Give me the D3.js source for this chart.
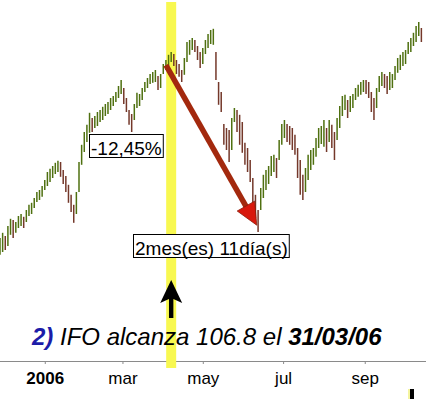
<!DOCTYPE html>
<html>
<head>
<meta charset="utf-8">
<script src="https://cdn.jsdelivr.net/npm/d3@7"></script>
<style>
  body { margin: 0; background: #fff; }
  svg { display: block; font-family: "Liberation Sans", Arial, sans-serif; }
</style>
</head>
<body>
<svg id="chart" width="426" height="399"></svg>
<script>
// One bar every two days, starting 28/11/2005 (high / low, index points)
var firstBar = '2005-11-28';
var highs = [3380,3393,3385,3410,3428,3425,3420,3435,3440,3433,
             3450,3463,3468,3480,3495,3500,3510,3525,3545,3553,
             3560,3568,3573,3570,3550,3535,3513,3488,3463,3495,
             3570,3613,3645,3663,3693,3680,3685,3695,3700,3708,
             3715,3720,3730,3735,3745,3760,3775,3755,3730,3700,
             3690,3715,3743,3740,3755,3770,3780,3790,3795,3800,
             3785,3790,3815,3825,3838,3845,3840,3825,3815,3800,
             3830,3870,3875,3880,3875,3860,3845,3855,3875,3890,
             3900,3903,3845,3770,3745,3665,3655,3650,3680,3705,
             3700,3688,3670,3618,3605,3575,3530,3488,3450,3505,
             3538,3550,3560,3585,3588,3580,3625,3665,3675,3665,
             3660,3655,3638,3605,3575,3538,3555,3588,3600,3605,
             3630,3655,3660,3675,3655,3675,3663,3645,3680,3710,
             3735,3738,3725,3735,3740,3755,3763,3770,3775,3775,
             3770,3745,3730,3755,3785,3795,3790,3785,3795,3790,
             3810,3830,3838,3845,3850,3870,3880,3893,3910,3920,3905];
var lows = [3338,3345,3350,3360,3388,3380,3393,3405,3410,3405,
            3420,3435,3440,3455,3470,3475,3483,3500,3510,3520,
            3530,3540,3545,3533,3515,3495,3468,3445,3418,3440,
            3495,3563,3595,3620,3643,3645,3655,3660,3670,3675,
            3685,3690,3700,3710,3720,3730,3740,3715,3695,3663,
            3645,3675,3705,3710,3725,3745,3755,3765,3768,3770,
            3750,3755,3790,3800,3810,3820,3810,3790,3783,3770,
            3788,3820,3838,3850,3845,3825,3805,3815,3840,3855,
            3865,3863,3775,3713,3695,3613,3600,3570,3600,3670,
            3645,3613,3593,3563,3545,3520,3463,3430,3395,3450,
            3480,3500,3515,3535,3545,3530,3575,3613,3630,3620,
            3613,3600,3588,3530,3488,3475,3495,3525,3550,3563,
            3583,3605,3615,3608,3595,3620,3605,3575,3625,3655,
            3685,3700,3680,3695,3705,3725,3733,3738,3745,3740,
            3730,3695,3675,3705,3745,3760,3755,3740,3750,3755,
            3775,3793,3800,3810,3815,3840,3845,3860,3870,3885,3870];

var tickDates = ['2006-01-01', '2006-03-01', '2006-05-01', '2006-07-01', '2006-09-01'];
var tickLabels = ['2006', 'mar', 'may', 'jul', 'sep'];

// event band and the fall that followed
var bandDate = '2006-04-07';
var dropStart = { date: '2006-04-03', price: 3812 };
var dropEnd = { date: '2006-06-11', price: 3412 };
var dropLabel = '-12,45%';
var durationLabel = '2mes(es) 11día(s)';
var noteParts = ['2)', ' IFO alcanza 106.8 el ', '31/03/06'];

var parseDate = d3.timeParse('%Y-%m-%d');
var svg = d3.select('#chart');

var x = d3.scaleTime()
  .domain([parseDate('2005-11-28'), parseDate('2006-10-16')])
  .range([0, 424]);
var y = d3.scaleLinear().domain([3000, 3975]).range([390, 0]);

var start = parseDate(firstBar);
var bars = highs.map(function (h, i) {
  return { date: d3.timeDay.offset(start, 2 * i), high: h, low: lows[i] };
});
bars.forEach(function (b, i) {
  var prev = i > 0 ? bars[i - 1] : b;
  b.up = (b.high + b.low) >= (prev.high + prev.low);
});

// x axis
var axis = d3.axisBottom(x)
  .tickValues(tickDates.map(parseDate))
  .tickFormat(function (d, i) { return tickLabels[i]; })
  .tickSize(3)
  .tickSizeOuter(0);
var gAxis = svg.append('g').attr('transform', 'translate(0,361)').call(axis);
gAxis.select('.domain').attr('d', 'M0,0.5H426').attr('stroke', '#8a8a8a');
gAxis.selectAll('.tick line').attr('stroke', '#8a8a8a');
gAxis.selectAll('.tick text')
  .attr('y', 23).attr('dy', 0)
  .attr('fill', '#000')
  .style('font-size', '17px')
  .style('font-family', '"Liberation Sans", Arial, sans-serif')
  .style('font-weight', function (d, i) { return i === 0 ? 'bold' : 'normal'; });

// yellow event band
var bx = x(parseDate(bandDate));
svg.append('rect')
  .attr('x', bx - 5).attr('y', 2)
  .attr('width', 10).attr('height', 366)
  .attr('fill', '#f8f850');

// price bars
svg.append('g').selectAll('line')
  .data(bars)
  .enter().append('line')
  .attr('x1', function (d) { return x(d.date); })
  .attr('x2', function (d) { return x(d.date); })
  .attr('y1', function (d) { return y(d.high); })
  .attr('y2', function (d) { return y(d.low); })
  .attr('stroke', function (d) { return d.up ? '#4f7010' : '#74382a'; })
  .attr('stroke-width', 1.5);

// red arrow for the fall
var p0 = [x(parseDate(dropStart.date)), y(dropStart.price)];
var p1 = [x(parseDate(dropEnd.date)), y(dropEnd.price)];
var dx = p1[0] - p0[0], dy = p1[1] - p0[1];
var len = Math.sqrt(dx * dx + dy * dy);
var ux = dx / len, uy = dy / len;
var headLen = 22, headW = 10;
var base = [p1[0] - ux * headLen, p1[1] - uy * headLen];
svg.append('line')
  .attr('x1', p0[0]).attr('y1', p0[1])
  .attr('x2', base[0] + ux * 2).attr('y2', base[1] + uy * 2)
  .attr('stroke', '#a3290e')
  .attr('stroke-width', 5.5);
svg.append('path')
  .attr('d', 'M' + p1[0] + ',' + p1[1] +
             'L' + (base[0] - uy * headW) + ',' + (base[1] + ux * headW) +
             'L' + (base[0] + uy * headW) + ',' + (base[1] - ux * headW) + 'Z')
  .attr('fill', '#d8180c')
  .attr('stroke', '#8a1a08')
  .attr('stroke-width', 0.8);

// boxed labels
var addBox = function (text, left, baseline, top) {
  var g = svg.append('g');
  var t = g.append('text')
    .attr('x', left + 2).attr('y', baseline)
    .style('font-size', '19px')
    .attr('fill', '#000')
    .text(text);
  var w = t.node().getComputedTextLength();
  g.insert('rect', 'text')
    .attr('x', left + 0.5).attr('y', top + 0.5)
    .attr('width', w + 3).attr('height', 23)
    .attr('fill', '#fff')
    .attr('stroke', '#000')
    .attr('stroke-width', 1);
};
addBox(dropLabel, 89, 155, 134);
addBox(durationLabel, 133, 254.5, 234);

// black arrow pointing to the event
svg.append('path')
  .attr('d', 'M' + bx + ',280 L' + (bx + 11) + ',303 L' + (bx + 2.2) + ',299 L' + (bx + 2.2) + ',318 L' +
             (bx - 2.2) + ',318 L' + (bx - 2.2) + ',299 L' + (bx - 11) + ',303 Z')
  .attr('fill', '#000');

// note
var note = svg.append('text')
  .attr('x', 32).attr('y', 345)
  .style('font-size', '24px')
  .style('font-style', 'italic')
  .attr('fill', '#000');
note.append('tspan').attr('fill', '#1c1ca8').style('font-weight', 'bold').text(noteParts[0]);
note.append('tspan').text(noteParts[1]);
note.append('tspan').style('font-weight', 'bold').text(noteParts[2]);

// start of the next marker, cut by the frame
svg.append('rect').attr('x', 408).attr('y', 389).attr('width', 2).attr('height', 10).attr('fill', '#f4f4a0');
svg.append('rect').attr('x', 410).attr('y', 389).attr('width', 4).attr('height', 10).attr('fill', '#000');
</script>
</body>
</html>
